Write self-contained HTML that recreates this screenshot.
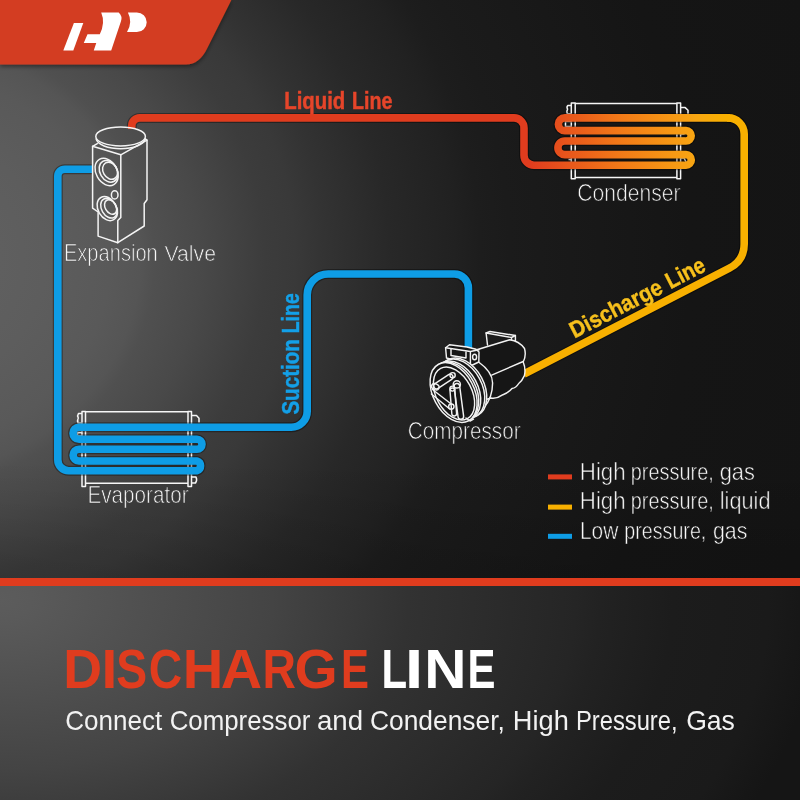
<!DOCTYPE html>
<html><head><meta charset="utf-8">
<style>
html,body{margin:0;padding:0;background:#1a1a1a;}
body{width:800px;height:800px;overflow:hidden;}
svg{display:block;font-family:"Liberation Sans",sans-serif;}
text{opacity:0.999;}
</style></head>
<body>
<svg width="800" height="800" viewBox="0 0 800 800">
<defs>
  <radialGradient id="bgTop" gradientUnits="userSpaceOnUse" cx="-100" cy="260" r="950" gradientTransform="translate(0 260) scale(1 0.9) translate(0 -260)">
    <stop offset="0" stop-color="#5f5f5f"/>
    <stop offset="0.105" stop-color="#5f5f5f"/>
    <stop offset="0.153" stop-color="#5d5d5d"/>
    <stop offset="0.221" stop-color="#595959"/>
    <stop offset="0.253" stop-color="#555555"/>
    <stop offset="0.268" stop-color="#505050"/>
    <stop offset="0.316" stop-color="#494949"/>
    <stop offset="0.353" stop-color="#424242"/>
    <stop offset="0.384" stop-color="#3c3c3c"/>
    <stop offset="0.416" stop-color="#393939"/>
    <stop offset="0.447" stop-color="#333333"/>
    <stop offset="0.479" stop-color="#2e2e2e"/>
    <stop offset="0.516" stop-color="#282828"/>
    <stop offset="0.584" stop-color="#212121"/>
    <stop offset="0.611" stop-color="#1d1d1d"/>
    <stop offset="0.642" stop-color="#1b1b1b"/>
    <stop offset="0.832" stop-color="#151515"/>
    <stop offset="1" stop-color="#141414"/>
  </radialGradient>
  <radialGradient id="bgBot" gradientUnits="userSpaceOnUse" cx="0" cy="600" r="820" gradientTransform="translate(0 600) scale(1 0.625) translate(0 -600)">
    <stop offset="0" stop-color="#5c5c5c"/>
    <stop offset="0.039" stop-color="#5a5a5a"/>
    <stop offset="0.332" stop-color="#444444"/>
    <stop offset="0.427" stop-color="#3a3a3a"/>
    <stop offset="0.498" stop-color="#323232"/>
    <stop offset="0.702" stop-color="#252525"/>
    <stop offset="0.732" stop-color="#222222"/>
    <stop offset="0.82" stop-color="#1c1c1c"/>
    <stop offset="0.937" stop-color="#1a1a1a"/>
    <stop offset="1" stop-color="#151515"/>
  </radialGradient>
  <linearGradient id="shadeTop" x1="0" y1="0" x2="0" y2="1">
    <stop offset="0" stop-color="#000" stop-opacity="0"/>
    <stop offset="1" stop-color="#000" stop-opacity="0.13"/>
  </linearGradient>
  <linearGradient id="bannerShadow" x1="0" y1="0" x2="0" y2="1">
    <stop offset="0" stop-color="#000" stop-opacity="0.3"/>
    <stop offset="1" stop-color="#000" stop-opacity="0"/>
  </linearGradient>
  <filter id="dsh" x="-10%" y="-10%" width="130%" height="140%">
    <feDropShadow dx="0" dy="2" stdDeviation="2" flood-color="#000" flood-opacity="0.45"/>
  </filter>
  <linearGradient id="cond" gradientUnits="userSpaceOnUse" x1="530" y1="0" x2="725" y2="0">
    <stop offset="0" stop-color="#e03c1e"/>
    <stop offset="0.45" stop-color="#f27818"/>
    <stop offset="0.85" stop-color="#f8a612"/>
    <stop offset="1" stop-color="#f8b000"/>
  </linearGradient>
</defs>

<!-- backgrounds -->
<rect x="0" y="0" width="800" height="580" fill="url(#bgTop)"/>
<rect x="0" y="460" width="800" height="120" fill="url(#shadeTop)"/>
<rect x="0" y="580" width="800" height="220" fill="url(#bgBot)"/>
<rect x="0" y="578" width="800" height="8" fill="#e03c1e"/>

<!-- banner -->

<path d="M0,0 H231.4 L207.5,47.8 Q199.5,64.6 186,64.6 H0 Z" fill="#d33d20" filter="url(#dsh)"/>
<!-- logo -->
<g fill="#ffffff" transform="translate(0 0.5)">
  <path d="M73.9,22.5 H83.3 L73.3,50 H63.3 Z"/>
  <path d="M101.2,11.9 H118.7 Q122.8,15.5 120.9,21.1 L111.2,50 H93.75 L96.25,42.5 H83.75 L87.5,33.75 H99.8 Q105.5,22 101.2,11.9 Z"/>
  <path d="M127.9,11.9 H136.85 A9.85,9.85 0 0 1 136.85,31.6 H127 Q133,21.5 127.9,11.9 Z"/>
</g>

<!-- condenser frame -->
<g fill="none" stroke="#f6f6f6" stroke-width="1.5" stroke-linejoin="round">
  <path d="M571.3,103 H575.2 V178.8 H571.3 Z"/>
  <path d="M676.9,103 H680.6 V178.8 H676.9 Z"/>
  <path d="M575.2,103.4 H676.9 M575.2,177.4 H676.9"/>
  <path d="M571.3,105.5 H567.8 Q566.3,107 567.6,109.2 Q566.2,111.5 567.2,113.8 H571.3"/>
  <path d="M571.3,121.5 H565.5 V126.5 H571.3"/>
  <path d="M680.6,107.6 H685.2 L688,110.2 V114"/>
  <path d="M680.6,134 H684.5 M680.6,138.5 H685 M680.6,158 H684 L686,162"/>
  <path d="M571.3,159.5 H568.5"/>
</g>

<!-- evaporator frame -->
<g fill="none" stroke="#f6f6f6" stroke-width="1.5" stroke-linejoin="round">
  <path d="M82,411.5 H85.5 V486.5 H82 Z"/>
  <path d="M188,411.5 H191.5 V486.5 H188 Z"/>
  <path d="M85.5,411.8 H188 M85.5,483.2 H188"/>
  <path d="M82,413.5 H78.5 Q77,415.5 78.3,418 Q77,420.5 78,423 H82"/>
  <path d="M82,432.5 H77.5 V436 H82"/>
  <path d="M191.5,415.5 H196.5 L199,418.2 V422.5"/>
  <path d="M191.5,477 H196 Q197.5,480 195.5,483 H191.5"/>
</g>

<!-- colored lines -->
<g fill="none" stroke-linejoin="round">
  <g stroke="#000" stroke-opacity="0.35" stroke-width="10">
    <path d="M131.75,129 V126 A8,8 0 0 1 139.75,117.9 H514 A10,10 0 0 1 524,127.9 V155.2 A10,10 0 0 0 534,165.2 H686 A5.275,5.275 0 0 0 686,154.65 H564.75 A6.825,6.825 0 0 1 564.75,141 H686 A5.2,5.2 0 0 0 686,130.6 H564.75 A6.35,6.35 0 0 1 564.75,117.9 H730"/>
    <path d="M727,117.9 H728.2 A16,16 0 0 1 744.2,133.9 V244 Q744.2,260.6 729.4,268.2 L524,374"/>
    <path d="M92,169.25 H64.8 A7,7 0 0 0 57.8,176.25 V459.75 A11,11 0 0 0 68.8,470.75 H197 A5.125,5.125 0 0 0 197,461 H79 A5.875,5.875 0 0 1 79,449.25 H197 A5,5 0 0 0 197,439.25 H79 A6,6 0 0 1 79,427.25 H291 A16,16 0 0 0 307.2,411.25 V295 A21,21 0 0 1 328.2,274 H454.4 A14,14 0 0 1 468.4,288 V348"/>
  </g>
  <path stroke="url(#cond)" stroke-width="7.6" d="M131.75,129 V126 A8,8 0 0 1 139.75,117.9 H514 A10,10 0 0 1 524,127.9 V155.2 A10,10 0 0 0 534,165.2 H686 A5.275,5.275 0 0 0 686,154.65 H564.75 A6.825,6.825 0 0 1 564.75,141 H686 A5.2,5.2 0 0 0 686,130.6 H564.75 A6.35,6.35 0 0 1 564.75,117.9 H730"/>
  <path stroke="#f8b000" stroke-width="7.6" d="M727,117.9 H728.2 A16,16 0 0 1 744.2,133.9 V244 Q744.2,260.6 729.4,268.2 L524,374"/>
  <path stroke="#0e9de6" stroke-width="7.6" d="M92,169.25 H64.8 A7,7 0 0 0 57.8,176.25 V459.75 A11,11 0 0 0 68.8,470.75 H197 A5.125,5.125 0 0 0 197,461 H79 A5.875,5.875 0 0 1 79,449.25 H197 A5,5 0 0 0 197,439.25 H79 A6,6 0 0 1 79,427.25 H291 A16,16 0 0 0 307.2,411.25 V295 A21,21 0 0 1 328.2,274 H454.4 A14,14 0 0 1 468.4,288 V348"/>
</g>

<!-- expansion valve -->
<g fill="none" stroke="#f4f4f4" stroke-width="1.5" stroke-linejoin="round" stroke-linecap="round">
  <path d="M97.3,143.6 L92.6,146.3 L120.8,154.8 L147,140.2 L145.3,138.9"/>
  <path d="M92.6,146.3 V208.2 L98.1,212 V236.1 L117.8,242.7 L144.2,226 V203.5 L147,199.7 V140.2"/>
  <path d="M120.8,154.8 V217.5 L117.8,220.6 V242.7"/>
  <path d="M96.2,139.2 A24.6,10.4 0 0 0 145.2,139.2"/>
  <ellipse cx="120.6" cy="136.4" rx="24.8" ry="9.5"/>
  <ellipse cx="106.6" cy="172" rx="14.5" ry="10.5" transform="rotate(60 106.6 172)"/>
  <ellipse cx="108.5" cy="171.3" rx="11.5" ry="8.5" transform="rotate(60 108.5 171.3)"/>
  <ellipse cx="110.1" cy="170.7" rx="9" ry="7" transform="rotate(60 110.1 170.7)"/>
  <ellipse cx="114.7" cy="194.9" rx="3.3" ry="4.1"/>
  <ellipse cx="107.3" cy="208.6" rx="12.8" ry="9.2" transform="rotate(60 107.3 208.6)"/>
  <ellipse cx="108.9" cy="208.2" rx="10.5" ry="7.3" transform="rotate(60 108.9 208.2)"/>
  <ellipse cx="110.6" cy="207" rx="7.8" ry="5.4" transform="rotate(60 110.6 207)"/>
</g>

<!-- compressor -->
<g stroke="#f2f2f2" stroke-width="1.45" stroke-linejoin="round" stroke-linecap="round" fill="#161616">
  <!-- right bracket -->
  <path d="M487.5,345 L486.1,333 L490,331.5 L515.4,335.5 L515.4,342 L510,343" fill="none"/>
  <path d="M486.1,333 L511.5,337.5 L515.4,335.5 M511.5,337.5 V343" fill="none"/>
  <!-- body -->
  <path d="M476,350 L509.7,339.8 Q519,341 524.5,348.5 Q526.5,355.5 523.2,362 Q526,369 524.4,375.6 Q522,381 518.7,383.5 Q516,388 512,388.5 Q508,393 503,394.7 Q497,399 491,398 L478,402 L470,370 Z"/>
  <path d="M491.7,375.1 L523.2,361.5" fill="none"/>
  <path d="M478.6,362 Q492.6,372 492.6,383 Q492.5,398 483.9,407.5" fill="none"/>
  <!-- left block -->
  <path d="M445.6,347.8 L449.5,344.8 L467,347 L476,349.2 L479,352 L478.8,362 L472.5,365 L446.5,358 Z"/>
  <path d="M445.6,347.8 L470.4,351.5 L479,349.8 M470.4,351.5 V364" fill="none"/>
  <path d="M451,349 V355.5 L466,358 V352" fill="none"/>
  <ellipse cx="474.6" cy="357" rx="2" ry="2.8"/>
  <!-- pulley rim rings -->
  <ellipse cx="463" cy="387.5" rx="31.5" ry="21" transform="rotate(62 463 387.5)"/>
  <ellipse cx="461" cy="388.5" rx="31.5" ry="21" transform="rotate(62 461 388.5)"/>
  <ellipse cx="457" cy="390.5" rx="31.5" ry="21" transform="rotate(62 457 390.5)"/>
  <ellipse cx="455" cy="391.5" rx="31.5" ry="21" transform="rotate(62 455 391.5)"/>
  <!-- front face -->
  <ellipse cx="453.6" cy="392.5" rx="32" ry="20.5" transform="rotate(62 453.6 392.5)"/>
  <ellipse cx="454" cy="393.5" rx="28.5" ry="17.8" transform="rotate(62 454 393.5)" fill="none"/>
  <!-- spider -->
  <g fill="none">
    <rect x="0" y="-2.8" width="22" height="5.6" rx="2.8" transform="translate(434.2,387.6) rotate(-33.7)"/>
    <ellipse cx="435.3" cy="386.8" rx="3.9" ry="2.9" transform="rotate(25 435.3 386.8)"/>
    <circle cx="452.6" cy="375.2" r="2.6"/>
    <rect x="0" y="-2.8" width="36" height="5.6" rx="2.8" transform="translate(456.5,383.5) rotate(82.5)"/>
    <circle cx="456.8" cy="384.4" r="3.6"/>
    <rect x="0" y="-2.4" width="28" height="4.8" rx="2.4" transform="translate(452.2,388) rotate(85.5)"/>
    <circle cx="452.4" cy="388.6" r="2.5"/>
    <path d="M432.5,389.5 L451.2,404 M431.4,394 L449.4,408.8"/>
    <circle cx="451.3" cy="406.6" r="2.7"/>
  </g>
  <path d="M466,418 L470,421 L473.5,419" fill="none"/>
</g>

<!-- line labels -->
<g font-size="23" font-weight="bold" fill="#e6452a" stroke="#e6452a" stroke-width="0.45">
  <text transform="translate(284.28 108.6) scale(0.8847 1)">Liquid</text>
  <text transform="translate(351.92 108.6) scale(0.8562 1)">Line</text>
</g>
<g transform="translate(298.6 0) rotate(-90)" font-size="23" font-weight="bold" fill="#13a0e8" stroke="#13a0e8" stroke-width="0.45">
  <text transform="translate(-414.62 0) scale(0.8963 1)">Suction</text>
  <text transform="translate(-333.27 0) scale(0.8473 1)">Line</text>
</g>
<g transform="translate(575 338) rotate(-27.25)" font-size="23" font-weight="bold" fill="#f7c01c" stroke="#f7c01c" stroke-width="0.45">
  <text transform="translate(-0.61 0.3) scale(0.9077 1)">Discharge</text>
  <text transform="translate(107.30 0.3) scale(0.8696 1)">Line</text>
</g>

<!-- component labels -->
<g font-size="23" fill="#f6f6f6" stroke="#4d4d4d" stroke-width="0.7">
  <text transform="translate(63.89 261) scale(0.8744 1)">Expansion</text>
  <text transform="translate(164.39 261) scale(0.9245 1)">Valve</text>
</g>
<g font-size="23" fill="#f6f6f6" stroke="#171717" stroke-width="0.7">
  <text transform="translate(577.19 200.8) scale(0.9191 1)">Condenser</text>
</g>
<g font-size="23" fill="#f6f6f6" stroke="#1c1c1c" stroke-width="0.7">
  <text transform="translate(407.86 439.4) scale(0.9003 1)">Compressor</text>
</g>
<g font-size="23" fill="#f6f6f6" stroke="#3a3a3a" stroke-width="0.7">
  <text transform="translate(87.45 503.3) scale(0.8986 1)">Evaporator</text>
</g>

<!-- legend -->
<rect x="548" y="474.4" width="24" height="5" fill="#e03c1e"/>
<rect x="548" y="504.6" width="24" height="5" fill="#f8b000"/>
<rect x="548" y="533.8" width="24" height="5" fill="#0e9de6"/>
<g font-size="23" fill="#f8f8f8" stroke="#161616" stroke-width="0.55">
  <text transform="translate(579.82 479.5) scale(0.9697 1)">High</text>
  <text transform="translate(630.81 479.5) scale(0.8652 1)">pressure,</text>
  <text transform="translate(719.63 479.5) scale(0.9489 1)">gas</text>
  <text transform="translate(579.82 509.4) scale(0.9697 1)">High</text>
  <text transform="translate(630.81 509.4) scale(0.8652 1)">pressure,</text>
  <text transform="translate(719.79 509.4) scale(0.9445 1)">liquid</text>
  <text transform="translate(579.93 538.5) scale(0.9092 1)">Low</text>
  <text transform="translate(624.22 538.5) scale(0.8566 1)">pressure,</text>
  <text transform="translate(712.95 538.5) scale(0.9290 1)">gas</text>
</g>

<!-- bottom title -->
<g font-size="55.2" font-weight="bold" fill="#e03c1e">
  <text transform="translate(63.29 687.5) scale(0.975 1)">D</text>
  <text transform="translate(101.58 687.5) scale(1.032 1)">I</text>
  <text transform="translate(116.27 687.5) scale(0.840 1)">S</text>
  <text transform="translate(148.84 687.5) scale(0.840 1)">C</text>
  <text transform="translate(182.74 687.5) scale(1.017 1)">H</text>
  <text transform="translate(220.87 687.5) scale(1.039 1)">A</text>
  <text transform="translate(262.47 687.5) scale(0.840 1)">R</text>
  <text transform="translate(294.62 687.5) scale(1.006 1)">G</text>
  <text transform="translate(340.94 687.5) scale(0.760 1)">E</text>
</g>
<g font-size="55.2" font-weight="bold" fill="#ffffff">
  <text transform="translate(381.59 687.5) scale(0.760 1)">L</text>
  <text transform="translate(405.05 687.5) scale(1.176 1)">I</text>
  <text transform="translate(424.18 687.5) scale(1.060 1)">N</text>
  <text transform="translate(467.49 687.5) scale(0.760 1)">E</text>
</g>
<g font-size="28.5" fill="#f2f2f2">
  <text transform="translate(65.20 729.5) scale(0.9143 1)">Connect</text>
  <text transform="translate(169.71 729.5) scale(0.9065 1)">Compressor</text>
  <text transform="translate(316.99 729.5) scale(0.9705 1)">and</text>
  <text transform="translate(369.93 729.5) scale(0.9257 1)">Condenser,</text>
  <text transform="translate(512.82 729.5) scale(0.9553 1)">High</text>
  <text transform="translate(575.90 729.5) scale(0.8341 1)">Pressure,</text>
  <text transform="translate(686.17 729.5) scale(0.9323 1)">Gas</text>
</g>


</svg>
</body></html>
